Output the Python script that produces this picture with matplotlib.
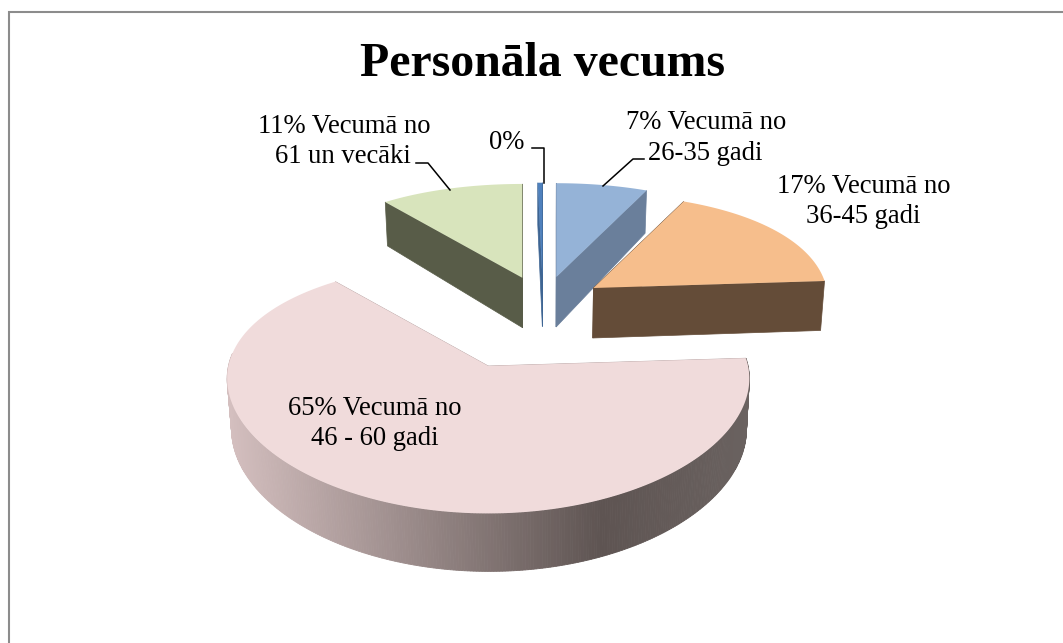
import numpy as np
import matplotlib
matplotlib.use('Agg')
import matplotlib.pyplot as plt
from matplotlib.colors import to_rgb

plt.rcParams['font.family'] = ['Liberation Serif', 'DejaVu Serif']

title = 'Personāla vecums'
# shares in percent, clockwise from 12 o'clock (the 0% slice is a sliver)
shares = [0.35, 7, 17, 65, 11]
top_colors = ['#4F81BD', '#95B3D7', '#F6BE8C', '#F0DBDB', '#D8E4BC']
wall_colors = ['#3E6593', '#6A7F9B', '#644C38', '#B9A6A6', '#585C48']
draw_order = [4, 0, 1, 2, 3]

label_lines = ['11% Vecumā no', '61 un vecāki', '0%', '7% Vecumā no', '26-35 gadi',
               '17% Vecumā no', '36-45 gadi', '65% Vecumā no', '46 - 60 gadi']
label_x = [344, 343, 507, 706, 705, 864, 863, 375, 375]
label_y = [133, 163, 149, 129, 160, 193, 223, 415, 445]

# pie layout, in pixels
cx = 543
spread_x = 61
explode_x = [1, 1, 1, 2.26, 1]
slice_scale = [1, 1, 1, 1.115, 1]
rx0 = 233
ry0 = 113
depth0 = 50

fig = plt.figure(figsize=(10.63, 6.43), dpi=100)
ax = fig.add_axes([0, 0, 1, 1])
ax.set_xlim(0, 1063)
ax.set_ylim(643, 0)
ax.axis('off')

# chart frame
ax.plot([8.5, 8.5, 1063], [643, 12, 12], color='#8C8C8C', lw=1.5, solid_joinstyle='miter')

ang = -shares[0] * 3.6
edges = [ang]
for s in shares:
    ang += s * 3.6
    edges.append(ang)


def apex(mid, boom):
    m = np.deg2rad(mid)
    v = -np.cos(m)
    return cx + spread_x * boom * np.sin(m), 310.5 + 47.8 * v + 13.8 * v ** 2


def rim(a0, a1, x0, y0, sc, n=80):
    t = np.deg2rad(np.linspace(a0, a1, n))
    u, v = np.sin(t), -np.cos(t)
    x = x0 + rx0 * sc * u * (1 + 0.10 * v)
    y = y0 + ry0 * sc * v * (1 + 0.17 * v)
    return x, y, v


def drop(x, y, v):
    # point under the top face, a bit narrower towards the bottom
    return cx + (x - cx) * 0.986, y + depth0 * (1 + 0.16 * v)


for i in draw_order:
    a0, a1 = edges[i], edges[i + 1]
    x0, y0 = apex((a0 + a1) / 2, explode_x[i])
    sc = slice_scale[i]
    x, y, v = rim(a0, a1, x0, y0, sc)
    bx0, by0 = drop(x0, y0, 0)

    # radial walls
    for k in (0, -1):
        bx, by = drop(x[k], y[k], v[k])
        ax.fill([x0, x[k], bx, bx0], [y0, y[k], by, by0], color=wall_colors[i], lw=0.5)

    # outer wall of the big slice, shaded left to right
    if shares[i] > 50:
        light = np.array(to_rgb('#D4BFBF'))
        dark = np.array(to_rgb('#5E5452'))
        end = np.array(to_rgb('#6A6260'))
        x, y, v = rim(a0, a1, x0, y0, sc, n=400)
        bx, by = drop(x, y, v)
        span = x.max() - x.min()
        for k in range(len(x) - 1):
            if v[k] < -0.1 and v[k + 1] < -0.1:
                continue
            p = (x[k] - x.min()) / span
            if p < 0.72:
                c = light + (dark - light) * (p / 0.72)
            else:
                c = dark + (end - dark) * (p - 0.72) / 0.28
            ax.fill([x[k], x[k + 1], bx[k + 1], bx[k]], [y[k], y[k + 1], by[k + 1], by[k]],
                    color=c, lw=0.6)

    ax.fill(np.r_[x0, x], np.r_[y0, y], color=top_colors[i], lw=0)

# leader lines
ax.plot([532, 544, 544], [148, 148, 183], color='black', lw=1.1)
ax.plot([416, 428, 450], [163, 163, 190], color='black', lw=1.1)
ax.plot([644, 633, 603], [159, 159, 186], color='black', lw=1.1)

for line, lx, ly in zip(label_lines, label_x, label_y):
    ax.text(lx, ly, line, ha='center', va='baseline', fontsize=19.2, color='black')

ax.text(542, 76, title, ha='center', va='baseline', fontsize=34.4, fontweight='bold', color='black')

fig.savefig('out.png', dpi=100)
